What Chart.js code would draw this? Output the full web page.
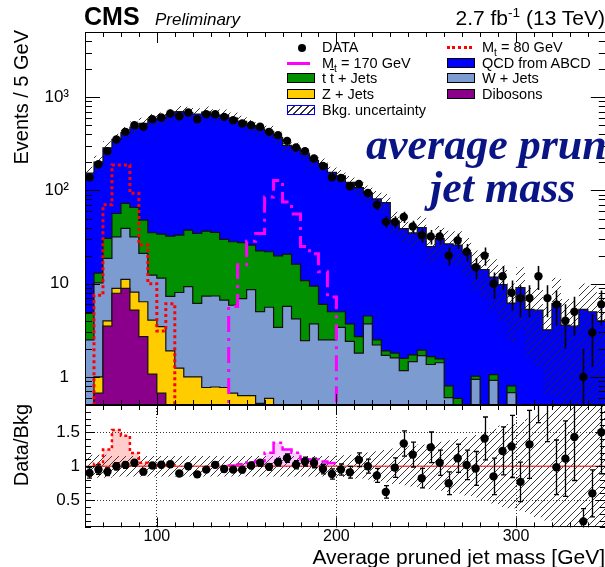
<!DOCTYPE html>
<html>
<head>
<meta charset="utf-8">
<script src="https://cdn.jsdelivr.net/npm/chart.js@4.4.1/dist/chart.umd.min.js"></script>
<style>
html, body { margin: 0; padding: 0; background: #fff; overflow: hidden; }
#wrap { position: relative; width: 605px; height: 567px; overflow: hidden; background: #fff;
        font-family: "Liberation Sans", Arial, Helvetica, sans-serif; color: #000; }
canvas { position: absolute; left: 0; }
#topPad { top: 0; }
#ratioPad { top: 400px; }
.t { position: absolute; white-space: nowrap; }
.lg { position: absolute; white-space: nowrap; font-size: 14.5px; line-height: 14.5px; }
.lg sub { font-size: 70%; vertical-align: -4px; line-height: 0; }
.sw { position: absolute; box-sizing: border-box; width: 28px; height: 10px; border: 1px solid #000; }
.rot { position: absolute; width: 200px; text-align: right; font-size: 20px; line-height: 20px;
       transform: rotate(-90deg); transform-origin: left top; white-space: nowrap; }
.big { position: absolute; white-space: nowrap; font-family: "Liberation Serif", "Times New Roman", serif;
       font-weight: bold; font-style: italic; font-size: 44px; line-height: 44px; color: #0a1585; }
</style>
</head>
<body>
<div id="wrap">
  <canvas id="topPad" width="610" height="410"></canvas>
  <canvas id="ratioPad" width="610" height="167"></canvas>

  <div class="t" style="left:84px;top:3.8px;font-size:25px;line-height:25px;font-weight:bold;">CMS</div>
  <div class="t" style="left:155px;top:10.6px;font-size:17px;line-height:17px;font-style:italic;">Preliminary</div>
  <div class="t" style="right:0;top:7.2px;font-size:21px;line-height:21px;">2.7 fb<sup style="font-size:65%;line-height:0;vertical-align:8px;">-1</sup> (13 TeV)</div>

  <!-- legend, left column -->
  <div style="position:absolute;left:298px;top:43.5px;width:8px;height:8px;border-radius:50%;background:#000;"></div>
  <div class="lg" style="left:322px;top:40.4px;">DATA</div>
  <div style="position:absolute;left:287px;top:61.5px;width:23px;height:0;border-top:3px solid #ff00ff;"></div>
  <div class="lg" style="left:322px;top:55.9px;">M<sub>t</sub> = 170 GeV</div>
  <div class="sw" style="left:287px;top:73.3px;background:#009000;"></div>
  <div class="lg" style="left:322px;top:71.2px;">t <span style="text-decoration:overline;">t</span> + Jets</div>
  <div class="sw" style="left:287px;top:89.3px;background:#ffcc00;"></div>
  <div class="lg" style="left:322px;top:87.2px;">Z + Jets</div>
  <div class="sw" style="left:287px;top:105px;border:1.5px solid #0000ff;background:repeating-linear-gradient(135deg,#fff 0 4px,#333 4px 5px);"></div>
  <div class="lg" style="left:322px;top:102.9px;">Bkg. uncertainty</div>

  <!-- legend, right column -->
  <div style="position:absolute;left:447px;top:46px;width:25px;height:0;border-top:3px dotted #ff0000;"></div>
  <div class="lg" style="left:482px;top:40.4px;">M<sub>t</sub> = 80 GeV</div>
  <div class="sw" style="left:447px;top:57.5px;background:#0000ff;"></div>
  <div class="lg" style="left:482px;top:55.9px;">QCD from ABCD</div>
  <div class="sw" style="left:447px;top:73.3px;background:#7b9bd1;"></div>
  <div class="lg" style="left:482px;top:71.2px;">W + Jets</div>
  <div class="sw" style="left:447px;top:89.3px;background:#8b008b;"></div>
  <div class="lg" style="left:482px;top:87.2px;">Dibosons</div>

  <div class="big" style="left:366px;top:123px;">average pruned</div>
  <div class="big" style="left:430px;top:166px;">jet mass</div>

  <div class="rot" style="left:11px;top:230px;">Events / 5 GeV</div>
  <div class="rot" style="left:11px;top:604px;">Data/Bkg</div>
  <div class="t" style="right:0;top:545.5px;font-size:21px;line-height:21px;">Average pruned jet mass [GeV]</div>
</div>

<script>
// Bin edges of the average pruned jet mass histogram (GeV)
const massEdges = [60,65,70,75,80,85,90,95,100,105,110,115,120,125,130,135,140,145,150,155,
  160,165,170,175,180,185,190,195,200,205,210,215,220,225,230,235,240,245,250,255,
  260,265,270,275,280,285,290,295,300,305,310,315,320,325,330,335,340,345,350];

// Observed events per 5 GeV
const dataEvents = [138,191,264,352,425,501,481,581,606,669, 625,685,581,657,657,615,567,523,501,481,
  425,392,340,289,264,220,183,138,136,111, 117,94,70,46,46,52,41,33,32,32,
  20,29,22,15,20,10,12,8,7,7, 12,7,6,4,5,1,3,6];

// Background components
const qcdABCD = [148.2,188,256.4,295.4,344.5,411.4,474.9,539.8,560,617.6, 666.8,647.4,625.4,655.4,608.5,611.1,568.8,523.5,470.1,435.5,
  407,350.1,283.3,266.8,236.2,200.6,185,151,138,118.3, 104.3,89.5,78.5,72.1,45.2,37.4,33.3,38.1,23.4,28.9,
  25.9,25.4,21.6,14.5,14.2,10.7,9.8,5.4,9.1,5.3, 5.2,3.2,6.1,3.6,3.5,5.3,5.0,4.0];
const ttJets = [2.3,2.8,11.9,24.8,33.4,33.8,27.0,22.8,22.5,25.1, 25.2,28.3,28.45,29.2,28.1,23.2,22.3,20.6,17.3,17.5,
  16.4,16.5,15.0,12.0,8.35,5.7,3.5,2.5,1.6,1.3, 0.9,0.8,0.3,0.2,0.2,0.41,0.26,0.25,0.29,0.14,
  0.2,0.09,0,0.08,0,0.14,0,0.12,0,0, 0,0,0,0,0,0,0,0];
const wJets = [2.3,9.2,14.7,22.9,28.0,23.7,14.7,8.3,8.0,5.4, 6.8,8.3,5.15,6.6,6.6,5.9,5.2,6.3,8.0,4.5,
  5.0,3.1,5.45,4.0,2.3,3.6,2.5,2.5,3.4,2.4, 1.8,3.7,2.2,1.7,1.6,1.17,1.46,1.69,1.36,1.42,
  0.6,0.5,0,0.94,0,0.92,0,0.68,0,0, 0,0,0,0,0,0,0,0];
const zJets = [0.2,0.33,0.5,1.0,2.2,2.9,3.7,3.0,2.8,1.9, 1.24,1.0,1.0,0.77,0.78,0.77,0.67,0.63,0.63,0.52,
  0.59,0.3,0.25,0.2,0.15,0.1,0,0,0,0, 0,0,0,0,0,0,0,0,0,0,
  0,0,0,0,0,0,0,0,0,0, 0,0,0,0,0,0,0,0];
const dibosons = [0,0.67,3.5,7.9,8.9,5.2,2.7,1.07,0.67,0, 0,0,0,0,0,0,0,0,0,0,
  0,0,0,0,0,0,0,0,0,0, 0,0,0,0,0,0,0,0,0,0,
  0,0,0,0,0,0,0,0,0,0, 0,0,0,0,0,0,0,0];

// Relative background uncertainty per bin
const bkgUnc = [0.17,0.17,0.17,0.15,0.15,0.15,0.15,0.15,0.15,0.15, 0.15,0.15,0.15,0.15,0.15,0.15,0.15,0.15,0.15,0.15,
  0.15,0.15,0.15,0.15,0.15,0.15,0.15,0.15,0.16,0.17, 0.18,0.2,0.22,0.24,0.26,0.28,0.3,0.32,0.34,0.36,
  0.38,0.4,0.43,0.46,0.5,0.55,0.6,0.62,0.65,0.7, 0.75,0.8,0.9,0.9,0.9,0.9,0.9,0.9];

// Signal hypotheses
const sigMt170 = [0,0,0,0,0,0,0,0,0,0, 0,0,0,0,0,0,5.7,16,28.5,34.5,
  85,128,75,56,25,21,13.4,7.2,0,0, 0,0,0,0,0,0,0,0,0,0,
  0,0,0,0,0,0,0,0,0,0, 0,0,0,0,0,0,0,0];
const sigMt80 = [0,7.5,70,187,187,93,26,10,3.1,6.1, 0,0,0,0,0,0,0,0,0,0,
  0,0,0,0,0,0,0,0,0,0, 0,0,0,0,0,0,0,0,0,0,
  0,0,0,0,0,0,0,0,0,0, 0,0,0,0,0,0,0,0];

const yLabels = {1: '1', 10: '10', 100: '10\u00B2', 1000: '10\u00B3'};

// ---- derived quantities -------------------------------------------------
const nBins = dataEvents.length;
const binCenters = massEdges.slice(0, nBins).map((e, i) => (e + massEdges[i + 1]) / 2);
const cumDib = dibosons.slice();
const cumZ = cumDib.map((v, i) => v + zJets[i]);
const cumW = cumZ.map((v, i) => v + wJets[i]);
const cumTT = cumW.map((v, i) => v + ttJets[i]);
const totalBkg = cumTT.map((v, i) => v + qcdABCD[i]);

const LOG_FLOOR = 0.05; // below the visible range of the log axis

function histPoints(vals, floor) {
  const f = floor === undefined ? -Infinity : floor;
  const pts = vals.map((v, i) => ({ x: massEdges[i], y: Math.max(v, f) }));
  pts.push({ x: massEdges[vals.length], y: Math.max(vals[vals.length - 1], f) });
  return pts;
}

function signalRatioPoints(sig) {
  const idx = sig.map((v, i) => (v > 0 ? i : -1)).filter(i => i >= 0);
  const i0 = idx[0], i1 = idx[idx.length - 1];
  const pts = [{ x: massEdges[i0], y: 1 }];
  for (let i = i0; i <= i1; i++) pts.push({ x: massEdges[i], y: 1 + sig[i] / totalBkg[i] });
  pts.push({ x: massEdges[i1 + 1], y: 1 });
  return pts;
}

function makeHatch() {
  const c = document.createElement('canvas');
  c.width = 7; c.height = 7;
  const g = c.getContext('2d');
  g.strokeStyle = '#222';
  g.lineWidth = 0.9;
  g.beginPath();
  for (const o of [-7, 0, 7]) { g.moveTo(o - 1, 8); g.lineTo(o + 8, -1); }
  g.stroke();
  return g.createPattern(c, 'repeat');
}
const hatch = makeHatch();

// fixed axis sizes so both pads share the same plotting frame
function fixWidth(w) {
  return s => { s.width = w; s.paddingTop = 0; s.paddingBottom = 0; };
}
function fixHeight(h) {
  return s => { s.height = h; s.paddingLeft = 0; s.paddingRight = 0; };
}

// ---- axis furniture: frame and inward ticks on all four sides -----------
const frameTicks = {
  id: 'frameTicks',
  afterDraw(chart, _args, o) {
    const { ctx, chartArea: a } = chart;
    const xs = chart.scales.x, ys = chart.scales.y;
    ctx.save();
    ctx.strokeStyle = '#000';
    ctx.lineWidth = 1;
    ctx.beginPath();
    for (const t of o.xTicks) {
      const px = Math.round(xs.getPixelForValue(t.v)) + 0.5;
      const len = t.major ? o.xMajor : o.xMinor;
      ctx.moveTo(px, a.bottom); ctx.lineTo(px, a.bottom - len);
      ctx.moveTo(px, a.top); ctx.lineTo(px, a.top + len);
    }
    for (const t of o.yTicks) {
      const py = Math.round(ys.getPixelForValue(t.v)) + 0.5;
      const len = t.major ? o.yMajor : o.yMinor;
      ctx.moveTo(a.left, py); ctx.lineTo(a.left + len, py);
      ctx.moveTo(a.right, py); ctx.lineTo(a.right - len, py);
    }
    ctx.stroke();
    ctx.strokeRect(Math.round(a.left) + 0.5, Math.round(a.top) + 0.5,
                   Math.round(a.right - a.left) - 1, Math.round(a.bottom - a.top) - 1);
    ctx.restore();
  }
};

// ---- vertical error bars on the data points ------------------------------
const errorBars = {
  id: 'errorBars',
  afterDatasetsDraw(chart, _args, o) {
    if (!o || !o.values) return;
    const { ctx, chartArea: a } = chart;
    const xs = chart.scales.x, ys = chart.scales.y;
    ctx.save();
    ctx.beginPath();
    ctx.rect(a.left, a.top, a.right - a.left, a.bottom - a.top);
    ctx.clip();
    ctx.strokeStyle = '#000';
    ctx.lineWidth = o.width;
    ctx.beginPath();
    o.values.forEach((v, i) => {
      const lo = v - o.errors[i], hi = v + o.errors[i];
      const px = Math.round(xs.getPixelForValue(o.x[i])) + 0.5;
      const pLo = (o.log && lo <= 0) ? a.bottom + 2 : ys.getPixelForValue(lo);
      const pHi = ys.getPixelForValue(hi);
      ctx.moveTo(px, pLo); ctx.lineTo(px, pHi);
      if (o.cap) {
        ctx.moveTo(px - o.cap, pLo); ctx.lineTo(px + o.cap, pLo);
        ctx.moveTo(px - o.cap, pHi); ctx.lineTo(px + o.cap, pHi);
      }
    });
    ctx.stroke();
    ctx.restore();
  }
};

const xTickList = [];
for (let v = 60; v <= 350; v += 10) xTickList.push({ v, major: v % 100 === 0 });
const logTickList = [];
for (const dec of [0.1, 1, 10, 100, 1000]) {
  for (let k = 1; k <= 9; k++) {
    const v = +(k * dec).toPrecision(3);
    if (v >= 0.5 && v <= 5000) logTickList.push({ v, major: k === 1 });
  }
}
const ratioTickList = [];
for (let k = 1; k <= 19; k++) ratioTickList.push({ v: k / 10, major: k % 5 === 0 });

Chart.defaults.font.family = "'Liberation Sans', Arial, Helvetica, sans-serif";
Chart.defaults.color = '#000';

function stackLayer(label, vals, color) {
  return {
    label, data: histPoints(vals, LOG_FLOOR), stepped: true,
    borderColor: '#111', borderWidth: 1.2, backgroundColor: color,
    pointRadius: 0, fill: 'start'
  };
}

// ---- upper pad: event yields on a log scale -----------------------------
new Chart(document.getElementById('topPad'), {
  type: 'line',
  data: {
    datasets: [
      { label: 'DATA', data: binCenters.map((x, i) => ({ x, y: dataEvents[i] })), showLine: false,
        pointRadius: 4.2, pointBackgroundColor: '#000', pointBorderWidth: 0, borderColor: '#000' },
      { label: 'M_t = 170 GeV', data: histPoints(sigMt170, LOG_FLOOR), stepped: true, borderColor: '#ff00ff',
        borderWidth: 3, borderDash: [16, 6, 3, 6], pointRadius: 0, fill: false },
      { label: 'M_t = 80 GeV', data: histPoints(sigMt80, LOG_FLOOR), stepped: true, borderColor: '#ff0000',
        borderWidth: 3, borderDash: [3, 3], pointRadius: 0, fill: false },
      { label: 'Bkg. uncertainty', data: histPoints(totalBkg.map((b, i) => b * (1 + bkgUnc[i])), LOG_FLOOR),
        stepped: true, borderWidth: 0, borderColor: 'rgba(0,0,0,0)', pointRadius: 0,
        backgroundColor: hatch, fill: '+1' },
      { label: 'unc-low', data: histPoints(totalBkg.map((b, i) => b * (1 - bkgUnc[i])), LOG_FLOOR),
        stepped: true, borderWidth: 0, borderColor: 'rgba(0,0,0,0)', pointRadius: 0, fill: false },
      stackLayer('Dibosons', cumDib, '#8b008b'),
      stackLayer('Z + Jets', cumZ, '#ffcc00'),
      stackLayer('W + Jets', cumW, '#7b9bd1'),
      stackLayer('t t + Jets', cumTT, '#009000'),
      stackLayer('QCD from ABCD', totalBkg, '#0000ff')
    ]
  },
  options: {
    responsive: false, animation: false, events: [],
    layout: { padding: { top: 32, right: 3, bottom: 5, left: 0 } },
    plugins: {
      legend: { display: false }, tooltip: { enabled: false },
      frameTicks: { xTicks: xTickList, xMajor: 11, xMinor: 5, yTicks: logTickList, yMajor: 15, yMinor: 7 },
      errorBars: { values: dataEvents, errors: dataEvents.map(Math.sqrt), x: binCenters, width: 1.6, cap: 0, log: true }
    },
    scales: {
      x: { type: 'linear', min: 60, max: 350, display: false },
      y: {
        type: 'logarithmic', min: 0.5, max: 5000,
        afterFit: fixWidth(85),
        afterBuildTicks: s => { s.ticks = [1, 10, 100, 1000].map(v => ({ value: v })); },
        ticks: { callback: v => yLabels[v] || '', font: { size: 17 }, padding: 8, autoSkip: false, maxRotation: 0 },
        grid: { display: false }, border: { display: false }
      }
    }
  },
  plugins: [frameTicks, errorBars]
});

// ---- lower pad: data / background ratio ----------------------------------
const ratioVals = dataEvents.map((d, i) => d / totalBkg[i]);
const ratioErrs = dataEvents.map((d, i) => Math.sqrt(d) / totalBkg[i]);

new Chart(document.getElementById('ratioPad'), {
  type: 'line',
  data: {
    datasets: [
      { label: 'ratio', data: binCenters.map((x, i) => ({ x, y: ratioVals[i] })), showLine: false,
        pointRadius: 4.2, pointBackgroundColor: '#000', pointBorderWidth: 0, borderColor: '#000', clip: 0 },
      { label: 'unity', data: [{ x: 60, y: 1 }, { x: 350, y: 1 }], borderColor: 'rgba(255,40,40,0.8)',
        borderWidth: 1.5, pointRadius: 0, fill: false },
      { label: 'M_t = 170 GeV', data: signalRatioPoints(sigMt170), stepped: true, borderColor: '#ff00ff',
        borderWidth: 2.5, borderDash: [16, 4, 3, 4], pointRadius: 0,
        backgroundColor: 'rgba(255,0,255,0.2)', fill: { value: 1 } },
      { label: 'M_t = 80 GeV', data: signalRatioPoints(sigMt80), stepped: true, borderColor: '#ff0000',
        borderWidth: 2.5, borderDash: [3, 3], pointRadius: 0,
        backgroundColor: 'rgba(255,0,0,0.2)', fill: { value: 1 } },
      { label: 'Bkg. uncertainty', data: histPoints(bkgUnc.map(u => 1 + u)), stepped: true,
        borderWidth: 0, borderColor: 'rgba(0,0,0,0)', pointRadius: 0, backgroundColor: hatch, fill: '+1' },
      { label: 'unc-low', data: histPoints(bkgUnc.map(u => 1 - u)), stepped: true,
        borderWidth: 0, borderColor: 'rgba(0,0,0,0)', pointRadius: 0, fill: false }
    ]
  },
  options: {
    responsive: false, animation: false, events: [],
    layout: { padding: { top: 5, right: 3, bottom: 0, left: 0 } },
    plugins: {
      legend: { display: false }, tooltip: { enabled: false },
      frameTicks: { xTicks: xTickList, xMajor: 10, xMinor: 5, yTicks: ratioTickList, yMajor: 10, yMinor: 6 },
      errorBars: { values: ratioVals, errors: ratioErrs, x: binCenters, width: 1.3, cap: 2.5, log: false }
    },
    scales: {
      x: {
        type: 'linear', min: 60, max: 350, position: 'bottom',
        afterFit: fixHeight(39.6),
        afterBuildTicks: s => { s.ticks = [100, 200, 300].map(v => ({ value: v })); },
        ticks: { font: { size: 16 }, padding: 0, maxRotation: 0, autoSkip: false },
        grid: { color: '#333', lineWidth: 1, drawTicks: false },
        border: { display: false, dash: [1, 2] }
      },
      y: {
        type: 'linear', min: 0.1, max: 1.9,
        afterFit: fixWidth(85),
        afterBuildTicks: s => { s.ticks = [0.5, 1, 1.5].map(v => ({ value: v })); },
        ticks: { font: { size: 17 }, padding: 5, autoSkip: false, callback: v => String(v) },
        grid: { color: '#333', lineWidth: 1, drawTicks: false },
        border: { display: false, dash: [1, 2] }
      }
    }
  },
  plugins: [frameTicks, errorBars]
});
</script>
</body>
</html>
